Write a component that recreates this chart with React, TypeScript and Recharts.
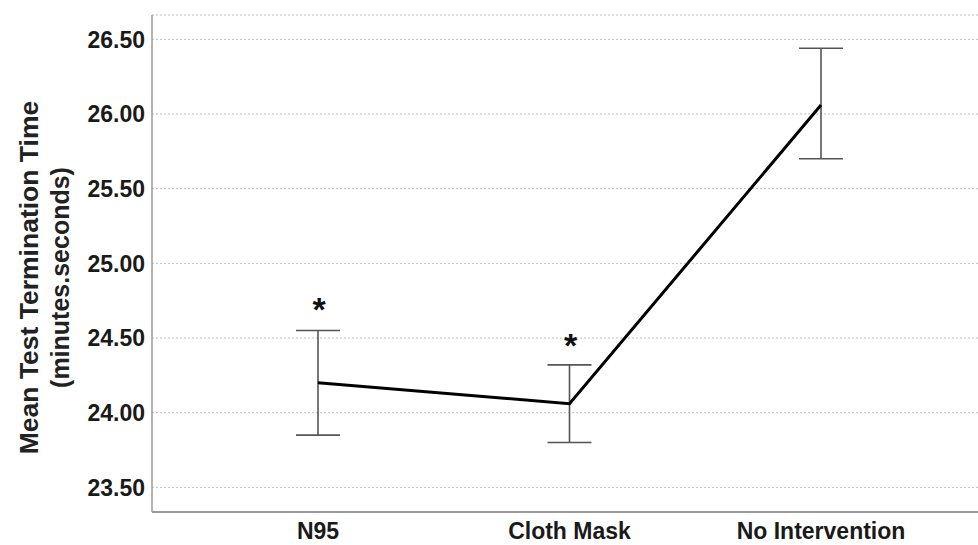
import React from 'react';
import { ComposedChart, Line, XAxis, YAxis, CartesianGrid, ErrorBar } from 'recharts';

const categories = ['N95', 'Cloth Mask', 'No Intervention'];
const means = [24.2, 24.06, 26.06];
const upper = [24.55, 24.32, 26.44];
const lower = [23.85, 23.8, 25.7];
const stars: (number | null)[] = [24.74, 24.5, null];
const yTicks = [23.5, 24.0, 24.5, 25.0, 25.5, 26.0, 26.5];
const yTitle1 = 'Mean Test Termination Time';
const yTitle2 = '(minutes.seconds)';

const data = categories.map((c, i) => ({
  name: c,
  mean: means[i],
  err: [means[i] - lower[i], upper[i] - means[i]],
  star: stars[i],
}));

const FONT = '"Liberation Sans", Arial, sans-serif';

const StarDot = (props: any) => {
  const { cx, cy, value, index } = props;
  if (value == null || cy == null || isNaN(cy)) return <g key={`s-${index}`} />;
  return (
    <text key={`s-${index}`} x={cx + 1} y={cy + 19} textAnchor="middle" fontFamily={FONT} fontWeight="bold" fontSize={34} fill="#111">
      *
    </text>
  );
};

const YTitle = (props: any) => {
  const vb = props.viewBox || { x: 0, y: 15, width: 152, height: 497 };
  const cy = vb.y + vb.height / 2 + 14;
  return (
    <g>
      <text x={29} y={cy} transform={`rotate(-90, 29, ${cy})`} textAnchor="middle" dominantBaseline="central" fontFamily={FONT} fontWeight="bold" fontSize={26.5} fill="#222">
        {yTitle1}
      </text>
      <text x={60} y={cy} transform={`rotate(-90, 60, ${cy})`} textAnchor="middle" dominantBaseline="central" fontFamily={FONT} fontWeight="bold" fontSize={25} fill="#222">
        {yTitle2}
      </text>
    </g>
  );
};

export default function App() {
  return (
    <div style={{ position: 'absolute', left: 0, top: 0, width: 978, height: 545, background: '#fff' }}>
      <ComposedChart width={978} height={545} data={data} margin={{ top: 15, right: 0, bottom: 0, left: 0 }}>
        <CartesianGrid vertical={false} stroke="#bdbdbd" strokeDasharray="2 2" />
        <XAxis
          dataKey="name"
          type="category"
          scale="point"
          padding={{ left: 166, right: 157 }}
          height={33}
          axisLine={{ stroke: '#9a9a9a', strokeWidth: 2 }}
          tickLine={false}
          tickSize={0}
          tickMargin={11}
          tick={{ fontFamily: FONT, fontWeight: 'bold', fontSize: 23, fill: '#1a1a1a' }}
          interval={0}
        />
        <YAxis
          type="number"
          domain={[23.335, 26.663]}
          allowDataOverflow
          ticks={yTicks}
          width={152}
          axisLine={{ stroke: '#9a9a9a', strokeWidth: 1.5 }}
          tickLine={false}
          tickSize={0}
          tickMargin={7}
          tickFormatter={(v: number) => v.toFixed(2)}
          tick={{ fontFamily: FONT, fontWeight: 'bold', fontSize: 23, fill: '#1a1a1a' }}
          label={<YTitle />}
        />
        <Line dataKey="mean" stroke="#000" strokeWidth={3} dot={false} activeDot={false} isAnimationActive={false}>
          <ErrorBar dataKey="err" direction="y" width={22} stroke="#555" strokeWidth={1.6} isAnimationActive={false} />
        </Line>
        <Line dataKey="star" stroke="none" dot={StarDot} activeDot={false} isAnimationActive={false} legendType="none" />
      </ComposedChart>
    </div>
  );
}
